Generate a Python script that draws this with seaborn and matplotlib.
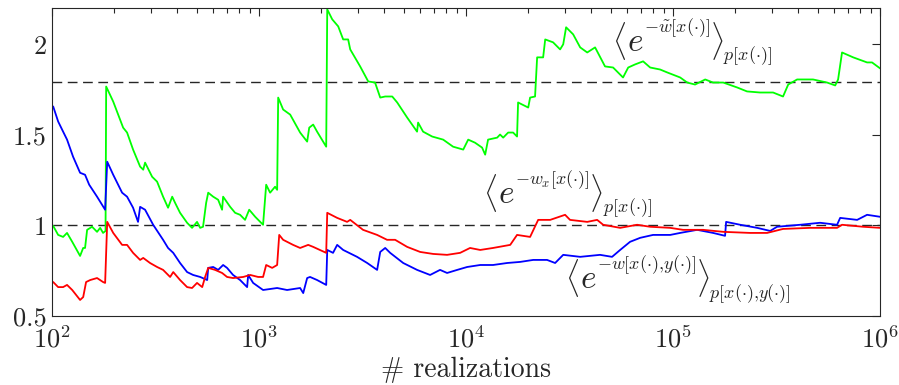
import numpy as np
import pandas as pd
import matplotlib
matplotlib.use("Agg")
import matplotlib.pyplot as plt
import seaborn as sns

# values; x is given as log10(# realizations)
logn_green = [2.005, 2.029, 2.053, 2.072, 2.097, 2.135, 2.150, 2.159, 2.169, 2.193,
              2.217, 2.232, 2.246, 2.258, 2.261, 2.295, 2.343, 2.362, 2.391, 2.425,
              2.440, 2.449, 2.483, 2.507, 2.536, 2.560, 2.580, 2.594, 2.618, 2.652,
              2.676, 2.700, 2.715, 2.729, 2.744, 2.754, 2.778, 2.802, 2.821, 2.826,
              2.860, 2.884, 2.908, 2.932, 2.952, 2.981, 3.019, 3.034, 3.053, 3.077,
              3.087, 3.092, 3.116, 3.150, 3.198, 3.232, 3.242, 3.261, 3.280, 3.324,
              3.329, 3.353, 3.382, 3.406, 3.430, 3.440, 3.488, 3.527, 3.560, 3.585,
              3.609, 3.643, 3.667, 3.715, 3.763, 3.768, 3.792, 3.836, 3.889, 3.937,
              3.986, 4.010, 4.043, 4.077, 4.092, 4.106, 4.150, 4.164, 4.179, 4.203,
              4.227, 4.246, 4.251, 4.300, 4.309, 4.333, 4.343, 4.372, 4.382, 4.420,
              4.454, 4.469, 4.483, 4.517, 4.551, 4.585, 4.623, 4.671, 4.710, 4.758,
              4.783, 4.816, 4.855, 4.889, 4.937, 4.971, 5.034, 5.068, 5.106, 5.155,
              5.193, 5.242, 5.309, 5.357, 5.420, 5.483, 5.531, 5.556, 5.599, 5.676,
              5.744, 5.783, 5.797, 5.816, 5.870, 5.937, 5.961, 6.000]
val_green = [0.998, 0.948, 0.937, 0.959, 0.910, 0.832, 0.876, 0.876, 0.976, 0.993,
             0.965, 0.987, 0.959, 0.970, 1.767, 1.684, 1.540, 1.513, 1.419, 1.325,
             1.308, 1.347, 1.269, 1.242, 1.159, 1.098, 1.159, 1.125, 1.070, 1.015,
             0.987, 1.020, 0.987, 0.993, 1.125, 1.181, 1.159, 1.142, 1.087, 1.159,
             1.103, 1.070, 1.059, 1.031, 1.087, 1.048, 1.004, 1.225, 1.181, 1.214,
             1.197, 1.706, 1.640, 1.612, 1.513, 1.463, 1.540, 1.557, 1.518, 1.435,
             2.193, 2.138, 2.099, 2.027, 2.027, 1.972, 1.878, 1.795, 1.789, 1.706,
             1.712, 1.712, 1.679, 1.596, 1.518, 1.568, 1.518, 1.491, 1.474, 1.435,
             1.419, 1.474, 1.457, 1.430, 1.391, 1.474, 1.485, 1.502, 1.485, 1.513,
             1.513, 1.491, 1.679, 1.651, 1.706, 1.712, 1.928, 1.928, 2.027, 2.011,
             1.972, 2.000, 2.094, 2.055, 1.983, 1.955, 1.983, 1.878, 1.872, 1.817,
             1.872, 1.889, 1.906, 1.872, 1.861, 1.845, 1.817, 1.789, 1.778, 1.806,
             1.789, 1.789, 1.762, 1.740, 1.734, 1.734, 1.712, 1.778, 1.806, 1.806,
             1.789, 1.773, 1.806, 1.955, 1.928, 1.900, 1.900, 1.867]

logn_blue = [2.005, 2.029, 2.053, 2.072, 2.101, 2.135, 2.159, 2.179, 2.217, 2.256,
             2.266, 2.295, 2.338, 2.362, 2.391, 2.415, 2.425, 2.449, 2.488, 2.536,
             2.560, 2.585, 2.618, 2.652, 2.681, 2.715, 2.749, 2.754, 2.778, 2.802,
             2.826, 2.845, 2.874, 2.908, 2.942, 2.947, 2.971, 3.019, 3.087, 3.135,
             3.198, 3.213, 3.232, 3.246, 3.280, 3.324, 3.329, 3.357, 3.377, 3.406,
             3.473, 3.522, 3.570, 3.585, 3.609, 3.633, 3.696, 3.763, 3.826, 3.874,
             3.908, 3.957, 4.005, 4.068, 4.130, 4.198, 4.261, 4.324, 4.391, 4.430,
             4.469, 4.551, 4.647, 4.705, 4.744, 4.792, 4.841, 4.903, 4.986, 5.034,
             5.116, 5.193, 5.251, 5.256, 5.324, 5.406, 5.469, 5.502, 5.614, 5.710,
             5.792, 5.807, 5.889, 5.937, 6.000]
val_blue = [1.657, 1.574, 1.518, 1.474, 1.380, 1.291, 1.280, 1.225, 1.159, 1.087,
            1.352, 1.280, 1.181, 1.159, 1.098, 1.020, 1.103, 1.087, 1.004, 0.921,
            0.876, 0.849, 0.793, 0.743, 0.727, 0.716, 0.699, 0.766, 0.771, 0.755,
            0.782, 0.766, 0.727, 0.699, 0.660, 0.727, 0.683, 0.644, 0.655, 0.644,
            0.655, 0.627, 0.710, 0.716, 0.699, 0.672, 0.865, 0.849, 0.893, 0.865,
            0.827, 0.793, 0.755, 0.854, 0.876, 0.849, 0.793, 0.755, 0.727, 0.755,
            0.738, 0.755, 0.771, 0.782, 0.782, 0.793, 0.799, 0.810, 0.810, 0.793,
            0.838, 0.827, 0.838, 0.827, 0.865, 0.910, 0.932, 0.948, 0.948, 0.959,
            0.976, 0.959, 0.943, 1.020, 1.004, 0.987, 0.970, 0.993, 1.004, 1.015,
            1.004, 1.042, 1.031, 1.059, 1.048]

logn_red = [2.005, 2.029, 2.053, 2.072, 2.097, 2.135, 2.150, 2.164, 2.184, 2.217,
            2.246, 2.256, 2.266, 2.295, 2.338, 2.362, 2.391, 2.425, 2.440, 2.473,
            2.507, 2.536, 2.570, 2.585, 2.618, 2.652, 2.676, 2.700, 2.725, 2.739,
            2.754, 2.787, 2.821, 2.845, 2.874, 2.923, 2.957, 2.995, 3.019, 3.034,
            3.063, 3.087, 3.097, 3.116, 3.164, 3.198, 3.237, 3.261, 3.324, 3.329,
            3.377, 3.425, 3.440, 3.502, 3.570, 3.618, 3.657, 3.715, 3.778, 3.841,
            3.908, 3.971, 4.019, 4.068, 4.130, 4.213, 4.246, 4.309, 4.348, 4.406,
            4.478, 4.502, 4.585, 4.633, 4.662, 4.744, 4.826, 4.889, 4.986, 5.048,
            5.145, 5.242, 5.372, 5.454, 5.531, 5.662, 5.792, 5.816, 5.918, 6.000]
val_red = [0.688, 0.660, 0.660, 0.672, 0.644, 0.589, 0.605, 0.688, 0.699, 0.710,
           0.688, 0.683, 1.020, 0.959, 0.893, 0.893, 0.849, 0.810, 0.821, 0.793,
           0.771, 0.755, 0.716, 0.743, 0.699, 0.660, 0.655, 0.683, 0.660, 0.716,
           0.766, 0.755, 0.738, 0.716, 0.710, 0.716, 0.727, 0.716, 0.716, 0.782,
           0.766, 0.782, 0.948, 0.921, 0.893, 0.876, 0.893, 0.882, 0.849, 1.070,
           1.042, 1.020, 1.031, 0.976, 0.948, 0.921, 0.921, 0.882, 0.854, 0.843,
           0.838, 0.849, 0.876, 0.865, 0.876, 0.893, 0.948, 0.937, 1.031, 1.031,
           1.059, 1.031, 1.020, 1.031, 1.004, 0.987, 1.004, 0.993, 0.987, 0.976,
           0.976, 0.965, 0.959, 0.959, 0.981, 0.987, 0.987, 1.004, 0.993, 0.987]

ref_levels = [1.79, 1.0]

# annotation pieces: (exponent, subscript, left x as log10 n, baseline y)
labels = [(r'-\tilde{w}[x(\cdot)]', r'p[x(\cdot)]', 4.705, 1.965),
          (r'-w_x[x(\cdot)]', r'p[x(\cdot)]', 4.082, 1.125),
          (r'-w[x(\cdot){,}y(\cdot)]', r'p[x(\cdot){,}y(\cdot)]', 4.478, 0.655)]

sns.set_style("white")
plt.rcParams['font.family'] = ['serif']
plt.rcParams['font.serif'] = ['cmr10']
plt.rcParams['mathtext.fontset'] = 'cm'
plt.rcParams['axes.formatter.use_mathtext'] = True
axcol = '#262626'

fig = plt.figure(figsize=(8.99, 3.85), dpi=100)
ax = fig.add_axes([0.058, 0.179, 0.921, 0.800])

for logn, vals, col in [(logn_green, val_green, '#00ff00'),
                        (logn_blue, val_blue, '#0000ff'),
                        (logn_red, val_red, '#ff0000')]:
    df = pd.DataFrame({'n': 10 ** np.array(logn), 'v': vals})
    sns.lineplot(data=df, x='n', y='v', color=col, lw=1.3, ax=ax,
                 estimator=None, sort=False)

for lev in ref_levels:
    ax.axhline(lev, color='#262626', lw=1.0, ls=(0, (7, 4)), zorder=1)

ax.set_xscale('log')
ax.set_xlim(1e2, 1e6)
ax.set_ylim(0.5, 2.2)
ax.set_yticks([0.5, 1, 1.5, 2])
ax.set_yticklabels(['0.5', '1', '1.5', '2'])
ax.set_ylabel('')
ax.set_xlabel('# realizations', fontsize=20, color=axcol, labelpad=3)

ax.tick_params(which='both', direction='in', top=True, right=True, colors=axcol,
               labelsize=19)
ax.tick_params(which='major', length=6, width=0.8)
ax.tick_params(which='minor', length=3.5, width=0.8)
ax.tick_params(axis='x', pad=7)
ax.tick_params(axis='y', pad=4)
for s in ax.spines.values():
    s.set_color(axcol)
    s.set_linewidth(0.8)

# <e^{...}>_{...}: big brackets and e, small exponent and subscript
for expo, sub, lx, yb in labels:
    kw = dict(color=axcol, textcoords='offset points', annotation_clip=False)
    t = ax.annotate(r'$\langle$', xy=(10 ** lx, yb), xycoords='data',
                    xytext=(0, 7), fontsize=22, ha='left', va='center', **kw)
    t = ax.annotate(r'$e$', xy=(1, yb), xycoords=(t, 'data'), xytext=(0.5, 0),
                    fontsize=24, ha='left', va='baseline', **kw)
    t = ax.annotate('$' + expo + '$', xy=(1, yb), xycoords=(t, 'data'), xytext=(0.5, 13.5),
                    fontsize=13, ha='left', va='baseline', **kw)
    t = ax.annotate(r'$\rangle$', xy=(1, yb), xycoords=(t, 'data'), xytext=(0, 7),
                    fontsize=22, ha='left', va='center', **kw)
    ax.annotate('$' + sub + '$', xy=(1, yb), xycoords=(t, 'data'), xytext=(0, -7),
                fontsize=13, ha='left', va='baseline', **kw)

fig.savefig('out.png', dpi=100)
